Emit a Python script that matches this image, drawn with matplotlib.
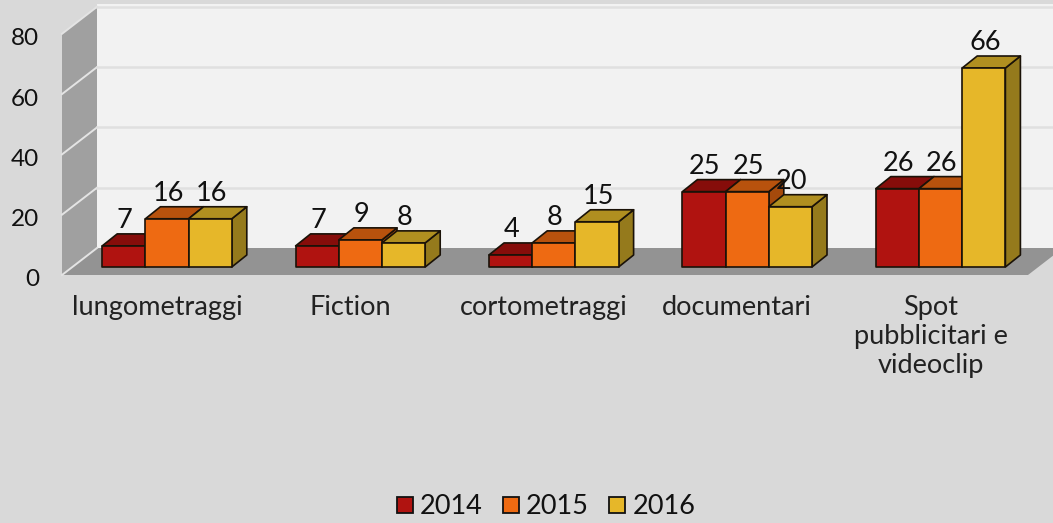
import matplotlib
matplotlib.use('Agg')
import matplotlib.pyplot as plt
from matplotlib.patches import Patch, Polygon

plt.rcParams['font.family'] = ['Lato', 'DejaVu Sans']

# Data
categories = ['lungometraggi', 'Fiction', 'cortometraggi', 'documentari',
              'Spot\npubblicitari e\nvideoclip']
years = ['2014', '2015', '2016']
values_2014 = [7, 7, 4, 25, 26]
values_2015 = [16, 9, 8, 25, 26]
values_2016 = [16, 8, 15, 20, 66]
series = [values_2014, values_2015, values_2016]
y_ticks = [0, 20, 40, 60, 80]

front_colors = ['#b01310', '#ee6a12', '#e6b729']
top_colors = ['#860d0a', '#b8520d', '#b08f20']
side_colors = ['#7a0d0a', '#a54a0c', '#957a1c']

BG = '#d9d9d9'
W, H = 1053, 523

fig = plt.figure(figsize=(W / 100, H / 100), dpi=100, facecolor=BG)
ax = fig.add_axes([0, 0, 1, 1])
ax.axis('off')

# one x unit = one category, one y unit = one value on the front plane
px_x = 193.4
px_y = 3.015
x0 = 167.0
y0 = 267.0
ax.set_xlim((0 - x0) / px_x, (W - x0) / px_x)
ax.set_ylim((y0 - H) / px_y, y0 / px_y)

bar_w = 43.2 / px_x
dep_x, dep_y = 15 / px_x, 12 / px_y        # bar depth
wall_x, wall_y = 35 / px_x, 27 / px_y      # chart depth
wall_left = (62 - x0) / px_x
floor_y = -8 / px_y
floor_right = (1028 - x0) / px_x


def poly(pts, fc, ec='none', lw=0, z=1):
    ax.add_patch(Polygon(pts, closed=True, facecolor=fc, edgecolor=ec,
                         linewidth=lw, joinstyle='round', zorder=z))


# walls and floor
top = y_ticks[-1] + floor_y
poly([(wall_left + wall_x, floor_y + wall_y), (ax.get_xlim()[1], floor_y + wall_y),
      (ax.get_xlim()[1], top + wall_y + 1), (wall_left + wall_x, top + wall_y + 1)], '#f2f2f2')
poly([(wall_left, floor_y), (wall_left + wall_x, floor_y + wall_y),
      (wall_left + wall_x, top + wall_y), (wall_left, top)], '#a0a0a0')
poly([(wall_left, floor_y), (floor_right, floor_y),
      (floor_right + wall_x, floor_y + wall_y), (wall_left + wall_x, floor_y + wall_y)], '#939393')

# grid lines, back wall and side wall
for t in y_ticks:
    y = t + floor_y
    ax.plot([wall_left, wall_left + wall_x], [y, y + wall_y], color='#e4e4e4', lw=1.4, zorder=2)
    if t > 0:
        ax.plot([wall_left + wall_x, ax.get_xlim()[1]], [y + wall_y, y + wall_y], color='#e0e0e0', lw=1.8, zorder=2)
    ax.text(wall_left - 23 / px_x, y - 3 / px_y, str(t), ha='right', va='center_baseline', fontsize=17.5, color='#111111', zorder=6)

# bars
for c in range(len(categories)):
    for s in range(len(series)):
        v = series[s][c]
        left = c + (s - 1.5) * bar_w
        right = left + bar_w
        edge = '#1a1208'
        poly([(right, 0), (right + dep_x, dep_y), (right + dep_x, v + dep_y), (right, v)],
             side_colors[s], edge, 1.2, 3 + 0.1 * s)
        poly([(left, v), (right, v), (right + dep_x, v + dep_y), (left + dep_x, v + dep_y)],
             top_colors[s], edge, 1.2, 3 + 0.1 * s)
        poly([(left, 0), (right, 0), (right, v), (left, v)],
             front_colors[s], edge, 1.2, 3 + 0.1 * s)
        ax.text(left + bar_w / 2 + 1 / px_x, v + 8.3, str(v), ha='center', va='center',
                fontsize=19.5, color='#111111', zorder=6)

# category labels
for c, name in enumerate(categories):
    ax.text(c - 10 / px_x, -28 / px_y, name, ha='center', va='top', fontsize=19.5,
            color='#222222', linespacing=1.2, zorder=6)

handles = [Patch(facecolor=front_colors[i], edgecolor='#111111', linewidth=1.3, label=years[i])
           for i in range(3)]
ax.legend(handles=handles, ncol=3, frameon=False, fontsize=19.5, loc='center',
          bbox_to_anchor=(546 / W, 1 - 507 / H), handlelength=0.58, handleheight=0.58,
          handletextpad=0.27, columnspacing=0.75, labelcolor='#111111')

fig.savefig('out.png', dpi=100, facecolor=BG)
